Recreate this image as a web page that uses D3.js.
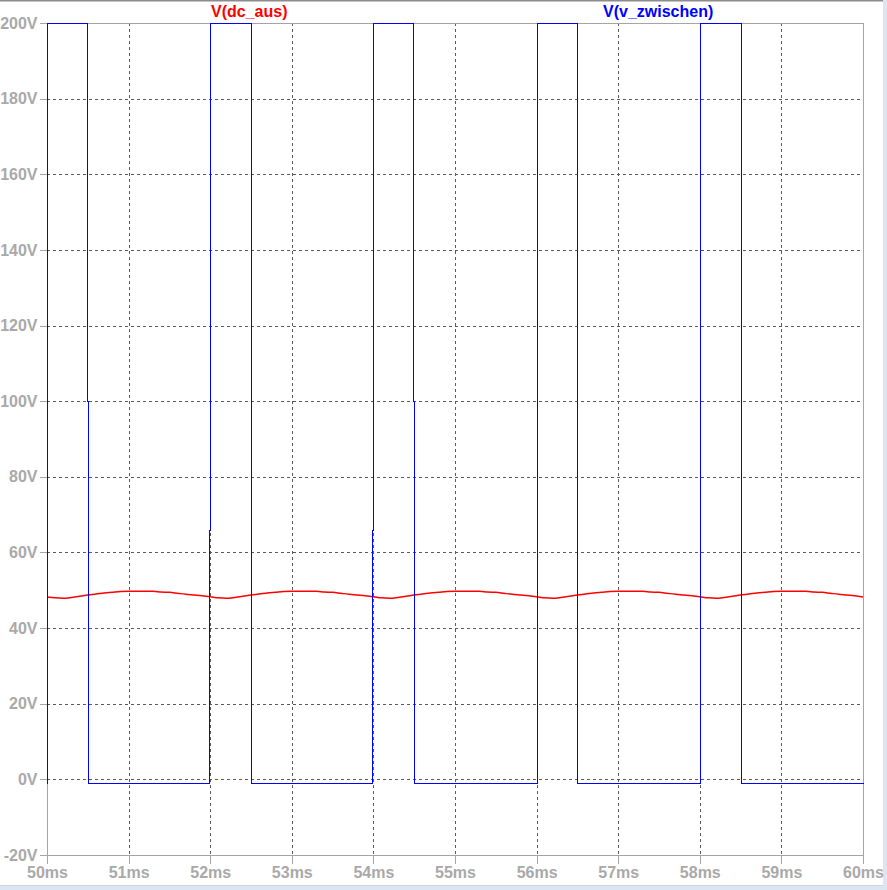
<!DOCTYPE html>
<html>
<head>
<meta charset="utf-8">
<script src="https://cdn.jsdelivr.net/npm/d3@7"></script>
<style>
  html, body { margin: 0; padding: 0; background: #ffffff; }
  svg { display: block; }
  text { font-family: "Liberation Sans", Arial, sans-serif; font-weight: bold; }
</style>
</head>
<body>
<script>
// ---------- data ----------
const xTicks = [50, 51, 52, 53, 54, 55, 56, 57, 58, 59, 60];          // ms
const yTicks = [-20, 0, 20, 40, 60, 80, 100, 120, 140, 160, 180, 200]; // V
const seriesNames = ["V(dc_aus)", "V(v_zwischen)"];

// V(dc_aus): sampled every 0.1 ms from 50.0 ms to 60.0 ms (volts)
const dcAusTime = d3.range(0, 101).map(i => 50 + i * 0.1);
const dcAusValues = [
  48.25, 48.0, 47.9, 48.1, 48.4, 48.75, 49.0, 49.3, 49.5, 49.7,
  49.75, 49.75, 49.75, 49.72, 49.55, 49.45, 49.2, 48.95, 48.75, 48.55,
  48.3, 48.0, 47.9, 48.1, 48.4, 48.75, 49.0, 49.3, 49.5, 49.7,
  49.75, 49.75, 49.75, 49.72, 49.55, 49.45, 49.2, 48.95, 48.75, 48.55,
  48.3, 48.0, 47.9, 48.1, 48.4, 48.75, 49.0, 49.3, 49.5, 49.7,
  49.75, 49.75, 49.75, 49.72, 49.55, 49.45, 49.2, 48.95, 48.75, 48.55,
  48.3, 48.0, 47.9, 48.1, 48.4, 48.75, 49.0, 49.3, 49.5, 49.7,
  49.75, 49.75, 49.75, 49.72, 49.55, 49.45, 49.2, 48.95, 48.75, 48.55,
  48.3, 48.0, 47.9, 48.1, 48.4, 48.75, 49.0, 49.3, 49.5, 49.7,
  49.75, 49.75, 49.75, 49.72, 49.55, 49.45, 49.2, 48.95, 48.75, 48.55,
  48.25
];

// V(v_zwischen): switching waveform, breakpoints (ms)
const zwTime = [
  50.0, 50.0, 50.488, 50.488, 50.5, 50.5,
  51.988, 51.988, 52.0, 52.0, 52.5, 52.5,
  53.988, 53.988, 54.0, 54.0, 54.488, 54.488, 54.5, 54.5,
  56.0, 56.0, 56.5, 56.5,
  58.0, 58.0, 58.5, 58.5, 60.0
];
const zwValues = [
  -1, 200, 200, 100, 100, -1,
  -1, 66, 66, 200, 200, -1,
  -1, 66, 66, 200, 200, 100, 100, -1,
  -1, 200, 200, -1,
  -1, 200, 200, -1, -1
];

// ---------- layout ----------
const W = 887, H = 890;
const plot = { left: 47, right: 863, top: 23, bottom: 855 };

const svg = d3.select("body").append("svg").attr("width", W).attr("height", H);

// window chrome
svg.append("rect").attr("x", 0).attr("y", 0).attr("width", W).attr("height", H).attr("fill", "#ffffff");
svg.append("rect").attr("x", 0).attr("y", 0).attr("width", W).attr("height", 1.5).attr("fill", "#8c8c8c");
svg.append("rect").attr("x", 883).attr("y", 0).attr("width", 4).attr("height", H).attr("fill", "#dbe6f2");
svg.append("rect").attr("x", 0).attr("y", 885).attr("width", W).attr("height", 5).attr("fill", "#dbe6f2");
svg.append("line").attr("x1", 0).attr("x2", 883).attr("y1", 885.5).attr("y2", 885.5).attr("stroke", "#c8d4e0");

const x = d3.scaleLinear().domain([50, 60]).range([plot.left, plot.right]);
const y = d3.scaleLinear().domain([-20, 200]).range([plot.bottom, plot.top]);

// grid
const grid = svg.append("g").attr("shape-rendering", "crispEdges");
grid.selectAll("line.v").data(xTicks.slice(1, -1)).join("line")
  .attr("x1", d => Math.round(x(d)) + 0.5).attr("x2", d => Math.round(x(d)) + 0.5)
  .attr("y1", plot.top).attr("y2", plot.bottom)
  .attr("stroke", "#5a5a5a").attr("stroke-dasharray", "3,3");
grid.selectAll("line.h").data(yTicks.slice(1, -1)).join("line")
  .attr("y1", d => Math.round(y(d)) + 0.5).attr("y2", d => Math.round(y(d)) + 0.5)
  .attr("x1", plot.left).attr("x2", plot.right)
  .attr("stroke", "#5a5a5a").attr("stroke-dasharray", "3,3");

// frame
svg.append("rect")
  .attr("x", plot.left + 0.5).attr("y", plot.top + 0.5)
  .attr("width", plot.right - plot.left).attr("height", plot.bottom - plot.top)
  .attr("fill", "none").attr("stroke", "#a5a5a5").attr("shape-rendering", "crispEdges");

// axes
const labelColor = "#a9a9a9";
const yAxis = svg.append("g").attr("transform", `translate(${plot.left + 0.5},0)`)
  .call(d3.axisLeft(y).tickValues(yTicks).tickSize(8).tickPadding(2).tickFormat(d => d + "V"));
const xAxis = svg.append("g").attr("transform", `translate(0,${plot.bottom + 0.5})`)
  .call(d3.axisBottom(x).tickValues(xTicks).tickSize(8).tickPadding(3).tickFormat(d => d + "ms"));
[yAxis, xAxis].forEach(a => {
  a.select(".domain").remove();
  a.selectAll(".tick line").attr("stroke", "#a5a5a5").attr("shape-rendering", "crispEdges");
  a.selectAll(".tick text").attr("fill", labelColor).attr("font-size", 16)
    .attr("font-family", '"Liberation Sans", Arial, sans-serif').attr("font-weight", "bold");
});

// traces
const dcData = dcAusTime.map((t, i) => [t, dcAusValues[i]]);
const zwData = zwTime.map((t, i) => [t, zwValues[i]]);

svg.append("path").datum(dcData)
  .attr("d", d3.line().x(d => x(d[0])).y(d => y(d[1])).curve(d3.curveMonotoneX))
  .attr("fill", "none").attr("stroke", "#ff0000").attr("stroke-width", 1.5);

svg.append("path").datum(zwData)
  .attr("d", d3.line().x(d => Math.round(x(d[0])) + 0.5).y(d => Math.round(y(d[1])) + 0.5))
  .attr("fill", "none").attr("stroke", "#0000ff").attr("stroke-width", 1)
  .attr("shape-rendering", "crispEdges");

// titles
svg.append("text").attr("x", 211).attr("y", 17).attr("fill", "#ff0000")
  .attr("font-size", 16).text(seriesNames[0]);
svg.append("text").attr("x", 603).attr("y", 17).attr("fill", "#0000ff")
  .attr("font-size", 16).text(seriesNames[1]);
</script>
</body>
</html>
